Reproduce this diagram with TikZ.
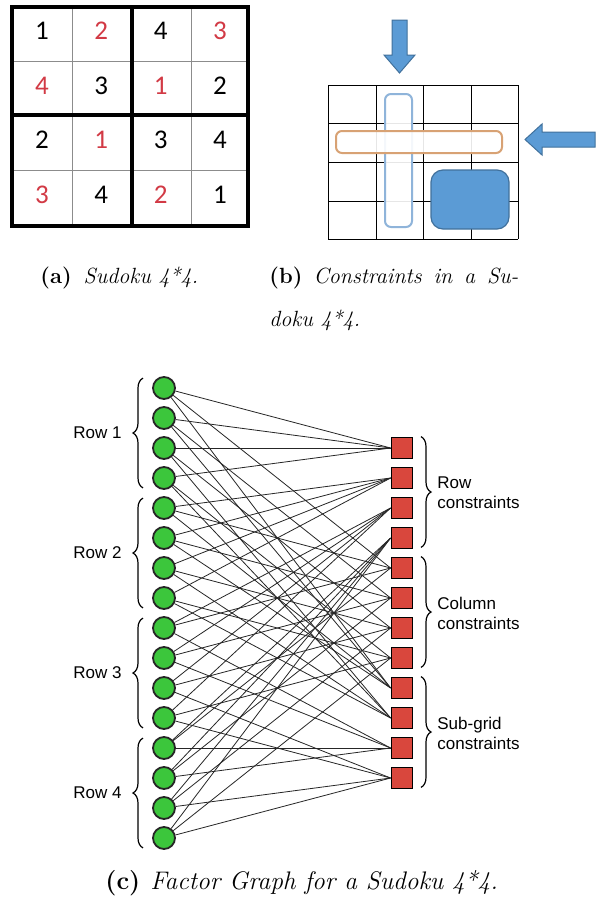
\documentclass[tikz,border=0pt]{standalone}
\usepackage{fontspec}
\newfontfamily\calibrifont{Carlito}
\newfontfamily\arialfont{Liberation Sans}
\usepackage{tikz}
\usetikzlibrary{arrows.meta,positioning,calc,decorations.pathreplacing}
\definecolor{sdred}{HTML}{D23A45}
\definecolor{cellgray}{HTML}{8C8C8C}
\definecolor{cstblue}{HTML}{5B9BD5}
\definecolor{cstbluedk}{HTML}{41719C}
\definecolor{cstlight}{HTML}{8FB4DA}
\definecolor{cstorange}{HTML}{D8A274}
\definecolor{varfill}{HTML}{3CC63C}
\definecolor{facfill}{HTML}{D9473D}

\begin{document}
\begin{tikzpicture}[x=0.5pt, y=-0.5pt,
  digit/.style={font=\calibrifont\fontsize{13.5}{14}\selectfont, inner sep=0pt},
  reddigit/.style={digit, text=sdred},
  gridthin/.style={draw=cellgray, line width=0.5pt},
  gridthick/.style={draw=black, line width=2pt},
  cgrid/.style={draw=black, line width=0.5pt},
  colbox/.style={draw=cstlight, line width=1pt, fill=white, fill opacity=0.9, rounded corners=3pt},
  rowbox/.style={draw=cstorange, line width=1pt, fill=white, fill opacity=0.9, rounded corners=3pt},
  subbox/.style={draw=cstbluedk, line width=0.6pt, fill=cstblue, rounded corners=6pt},
  bigarrow/.style={draw=cstbluedk, line width=0.5pt, fill=cstblue},
  var/.style={circle, draw=black!85, line width=0.9pt, fill=varfill,
              minimum size=11pt, inner sep=0pt},
  fac/.style={rectangle, draw=black, line width=0.9pt, fill=facfill,
              minimum size=10.5pt, inner sep=0pt},
  edge/.style={draw=black!85, line width=0.4pt},
  brc/.style={decorate, decoration={brace, amplitude=5pt}, line width=0.6pt},
  lbl/.style={font=\arialfont\fontsize{8.5}{10}\selectfont, align=left, inner sep=0pt},
  captxt/.style={font=\fontsize{11}{13}\selectfont, inner sep=0pt},
  bigcap/.style={font=\fontsize{12.7}{15}\selectfont, inner sep=0pt}
]
  \useasboundingbox (0,0) rectangle (607,906);
  \fill[white] (0,0) rectangle (607,906);

  % (a) the sudoku
  \draw[gridthin] (72,7) -- (72,226) (191,7) -- (191,226)
                  (12,61) -- (248,61) (12,170) -- (248,170);
  \draw[gridthick] (12,7) rectangle (248,226)
                   (132,7) -- (132,226) (12,115) -- (248,115);
  \foreach \d/\s [count=\k from 0] in {1/digit,2/reddigit,4/digit,3/reddigit,
      4/reddigit,3/digit,1/reddigit,2/digit,
      2/digit,1/reddigit,3/digit,4/digit,
      3/reddigit,4/digit,2/reddigit,1/digit} {
    \pgfmathtruncatemacro\rr{div(\k,4)}
    \pgfmathtruncatemacro\cc{mod(\k,4)}
    \node[\s] (d\k) at ({42+59.3*\cc},{31+54.6*\rr}) {\d};
  }

  % (b) constraints
  \foreach \x in {328,376,423,471,518} \draw[cgrid] (\x,85) -- (\x,239);
  \foreach \y in {85,123,162,201,239} \draw[cgrid] (328,\y) -- (518,\y);
  \draw[colbox] (385,94) rectangle (412,227);
  \draw[rowbox] (336,131) rectangle (502,153);
  \draw[subbox] (431,170) rectangle (509,229);
  \draw[bigarrow] (392,20) -- (407,20) -- (407,55) -- (415,55) -- (399.5,73)
                  -- (384,55) -- (392,55) -- cycle;
  \draw[bigarrow] (595,132) -- (542,132) -- (542,124) -- (525,139.5)
                  -- (542,155) -- (542,147) -- (595,147) -- cycle;

  % (c) factor graph
  \foreach \i in {0,...,15}
    \node[var] (v\i) at (164,{388+30*\i}) {};
  \foreach \j in {0,...,11}
    \node[fac] (f\j) at (402,{448+30*\j}) {};
  \foreach \i in {0,...,15} {
    \pgfmathtruncatemacro\rw{div(\i,4)}
    \pgfmathtruncatemacro\cl{4+mod(\i,4)}
    \pgfmathtruncatemacro\sg{8+2*div(\i,8)+div(mod(\i,4),2)}
    \draw[edge] (v\i) -- (f\rw.west);
    \draw[edge] (v\i) -- (f\cl.west);
    \draw[edge] (v\i) -- (f\sg.west);
  }
  \foreach \r in {0,...,3} {
    \pgfmathtruncatemacro\ta{4*\r}
    \pgfmathtruncatemacro\tb{4*\r+3}
    \pgfmathtruncatemacro\nr{\r+1}
    \draw[brc] ([xshift=-10.5pt,yshift=1pt]v\tb.south) -- ([xshift=-10.5pt,yshift=-1pt]v\ta.north);
    \node[lbl, anchor=east] (row\nr) at ($(v\ta)!0.5!(v\tb)+(-21pt,0)$) {Row \nr};
  }
  \foreach \a/\b/\t [count=\g] in {0/3/{Row\\constraints},4/7/{Column\\constraints},
                                    8/11/{Sub-grid\\constraints}} {
    \draw[brc] ([xshift=9.5pt]f\a.north) -- ([xshift=9.5pt,yshift=1pt]f\b.south);
    \node[lbl, anchor=west] (grp\g) at ($(f\a)!0.5!(f\b)+(17.5pt,0)$) {\t};
  }

  % captions
  \node[captxt, anchor=west] (capa) at (40,278) {\textbf{(a)}\hspace{6pt}\textit{Sudoku 4*4.}};
  \node[captxt, anchor=west] (capb) at (269,278)
    {\makebox[124.5pt][s]{\textbf{(b)} \textit{Constraints in a Su-}}};
  \node[captxt, anchor=west] (capb2) at (269,320) {\textit{doku 4*4.}};
  \node[bigcap, anchor=west] (capc) at (105,883)
    {\textbf{(c)}\hspace{5pt}\textit{Factor Graph for a Sudoku 4*4.}};
\end{tikzpicture}
\end{document}
